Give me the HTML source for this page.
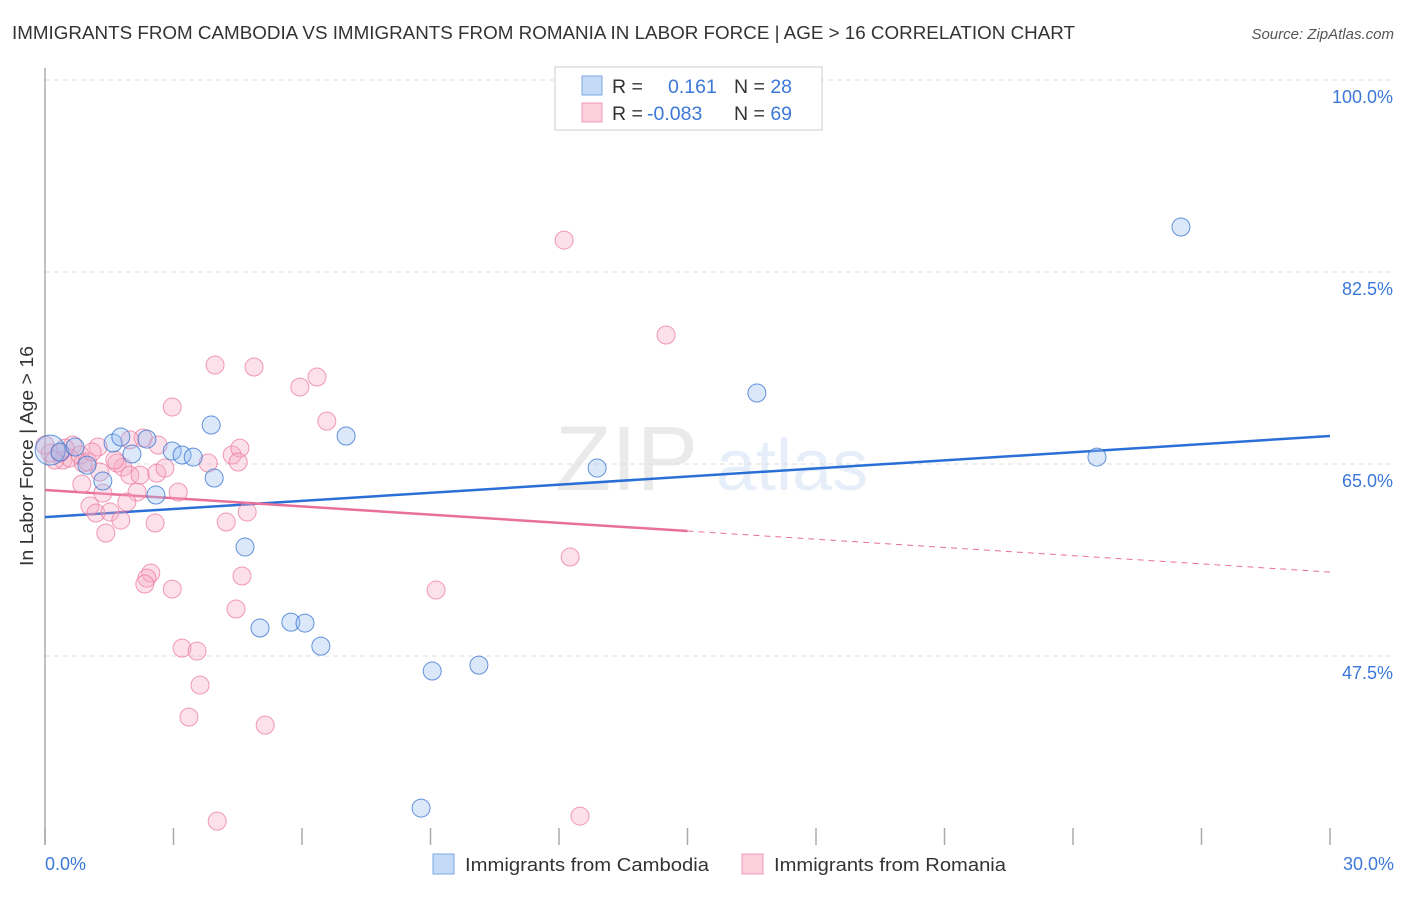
<!DOCTYPE html>
<html><head><meta charset="utf-8"><style>
body{margin:0;background:#fff;font-family:"Liberation Sans",sans-serif}
svg text{font-family:"Liberation Sans",sans-serif}
</style></head><body>
<svg id="chart" width="1406" height="892" viewBox="0 0 1406 892" xmlns="http://www.w3.org/2000/svg">
<text x="12" y="39" font-size="18" fill="#333" textLength="1063" lengthAdjust="spacingAndGlyphs">IMMIGRANTS FROM CAMBODIA VS IMMIGRANTS FROM ROMANIA IN LABOR FORCE | AGE &gt; 16 CORRELATION CHART</text>
<text x="1394" y="39" font-size="15" fill="#555" font-style="italic" text-anchor="end">Source: ZipAtlas.com</text>
<g opacity="0.13">
<text x="555" y="490" font-size="92" font-family="Liberation Serif" fill="#666">ZIP</text>
<text x="716" y="490" font-size="72" fill="#4a8ad8">atlas</text>
</g>
<g id="grid"></g>
<g id="axes"></g>
<g id="trends"></g>
<g id="points"></g>
<text transform="translate(33,456) rotate(-90)" font-size="18" fill="#333" text-anchor="middle" textLength="220" lengthAdjust="spacingAndGlyphs">In Labor Force | Age &gt; 16</text>
<text x="45" y="870" font-size="18" fill="#3b78d8">0.0%</text>
<text x="1394" y="870" font-size="18" fill="#3b78d8" text-anchor="end">30.0%</text>
<g>
<rect x="555" y="67" width="267" height="63" fill="#fff" stroke="#ccc"/>
<rect x="582" y="76" width="20" height="19" fill="#c5daf6" stroke="#7aa6e6"/>
<rect x="582" y="103" width="20" height="19" fill="#fbd0dc" stroke="#f09ab5"/>
<text x="612" y="93" font-size="19.5" fill="#333">R = <tspan fill="#3b78d8" x="668">0.161</tspan><tspan x="734">N = </tspan><tspan fill="#3b78d8">28</tspan></text>
<text x="612" y="120" font-size="19.5" fill="#333">R = <tspan fill="#3b78d8" x="647">-0.083</tspan><tspan x="734">N = </tspan><tspan fill="#3b78d8">69</tspan></text>
</g>
<g>
<rect x="433" y="854" width="21" height="20" fill="#c5daf6" stroke="#7aa6e6"/>
<text x="465" y="871" font-size="18.5" fill="#333" textLength="244" lengthAdjust="spacingAndGlyphs">Immigrants from Cambodia</text>
<rect x="742" y="854" width="21" height="20" fill="#fbd0dc" stroke="#f09ab5"/>
<text x="774" y="871" font-size="18.5" fill="#333" textLength="232" lengthAdjust="spacingAndGlyphs">Immigrants from Romania</text>
</g>
</svg>
<script>
const yTicks=[100,82.5,65,47.5];
const yTickLabels=["100.0%","82.5%","65.0%","47.5%"];
const cambodiaX=[0.12,0.35,0.70,0.98,1.35,1.59,1.77,2.03,2.38,2.59,2.97,3.20,3.46,3.88,3.95,4.67,5.02,5.74,6.07,6.44,7.03,8.78,9.04,10.13,12.89,16.62,24.56,26.52];
const cambodiaY=[66.27,66.09,66.55,64.9,63.45,66.91,67.46,65.91,67.27,62.17,66.18,65.82,65.63,68.55,63.72,57.43,50.05,50.59,50.50,48.40,67.55,33.64,46.13,46.67,64.63,71.47,65.63,86.60];
const romaniaX=[12.12,14.50,3.97,4.88,5.95,6.35,6.58,2.97,3.81,4.37,4.55,3.11,2.15,0.86,1.05,1.19,1.52,1.77,1.42,2.57,1.91,4.72,4.23,2.47,2.38,2.33,2.97,4.60,4.46,3.20,3.55,3.62,3.36,5.14,12.26,9.13,12.49,4.02,1.24,1.68,1.82,1.98,2.22,2.61,2.80,2.29,0.65,0.42,0.12,0.35,0.58,0.89,1.28,1.35,1.63,0,0.23,0.47,0.82,1.00,1.10,2.64,4.51,1.98];
const romaniaY=[85.41,76.76,74.02,73.84,72.01,72.93,68.91,70.19,65.09,65.82,66.45,62.44,62.44,63.17,61.17,60.53,60.62,59.89,58.71,59.62,61.53,60.62,59.71,55.06,54.60,54.06,53.60,54.79,51.78,48.22,47.95,44.85,41.93,41.20,56.52,53.51,32.91,32.45,66.55,65.09,64.72,63.99,63.99,64.17,64.63,67.37,66.73,65.36,66.00,66.00,65.54,65.09,64.27,62.35,65.36,66.73,65.36,66.45,65.82,65.18,66.09,66.73,65.18,67.2];
const cambodiaTrend=[60.16,67.55];
const romaniaTrend=[62.63,55.15];
const NS="http://www.w3.org/2000/svg";
const xs=v=>45+v*(1285/30);
const ys=v=>80+(100-v)*(192/17.5);
function mk(tag,attrs,parent){const e=document.createElementNS(NS,tag);for(const k in attrs)e.setAttribute(k,attrs[k]);parent.appendChild(e);return e;}
const grid=document.getElementById('grid'),axes=document.getElementById('axes'),tr=document.getElementById('trends'),pts=document.getElementById('points');
yTicks.forEach((t,i)=>{
 const l=mk('line',{x1:45,x2:1393,y1:ys(t),y2:ys(t),stroke:'#ddd','stroke-dasharray':'5,4'},grid);
 
 
 const tx=mk('text',{x:1393,y:ys(t)+23,'font-size':18,fill:'#3b78d8','text-anchor':'end'},grid);
 tx.textContent=yTickLabels[i];
 
 
});
const ya=mk('line',{x1:45,x2:45,y1:68,y2:845,stroke:'#aaa','stroke-width':1.5},axes);


for(let i=0;i<=10;i++){const x=xs(i*3);
 const t=mk('line',{x1:x,x2:x,y1:828,y2:845,stroke:'#aaa','stroke-width':1.5},axes);
 
 }
const bl=mk('line',{x1:xs(0),y1:ys(cambodiaTrend[0]),x2:xs(30),y2:ys(cambodiaTrend[1]),stroke:'#2a6fd6','stroke-width':2.5},tr);


const pm=romaniaTrend[0]+(romaniaTrend[1]-romaniaTrend[0])*0.5;
const pl=mk('line',{x1:xs(0),y1:ys(romaniaTrend[0]),x2:xs(15),y2:ys(pm),stroke:'#e8709a','stroke-width':2.5},tr);


const pd=mk('line',{x1:xs(15),y1:ys(pm),x2:xs(30),y2:ys(romaniaTrend[1]),stroke:'#e8709a','stroke-width':1,'stroke-dasharray':'6,5'},tr);


romaniaX.forEach((x,i)=>{
 const c=mk('circle',{cx:xs(x),cy:ys(romaniaY[i]),r:9,fill:'rgba(247,170,195,0.35)',stroke:'rgba(236,120,160,0.75)','stroke-width':1},pts);
 
 
});
cambodiaX.forEach((x,i)=>{
 const c=mk('circle',{cx:xs(x),cy:ys(cambodiaY[i]),r:i===0?15:9,fill:'rgba(150,190,240,0.35)',stroke:'rgba(60,120,210,0.8)','stroke-width':1},pts);
 
 
});
</script>
</body></html>
